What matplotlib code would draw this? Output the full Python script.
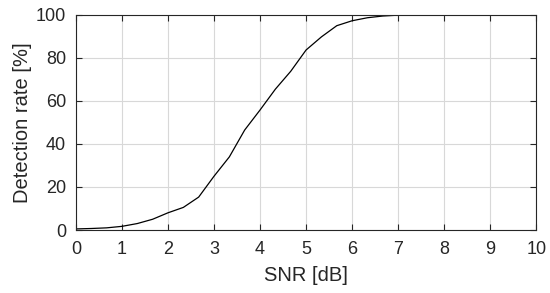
import numpy as np
import matplotlib
matplotlib.use("Agg")
import matplotlib.pyplot as plt

plt.rcParams['font.family'] = ['Liberation Sans', 'DejaVu Sans']

snr_db = [0, 1/3, 2/3, 1, 4/3, 5/3, 2, 7/3, 8/3, 3, 10/3, 11/3, 4, 13/3, 14/3, 5,
          16/3, 17/3, 6, 19/3, 20/3, 7, 22/3, 23/3, 8, 25/3, 26/3, 9, 28/3, 29/3, 10]
detection_rate = [0.5, 0.7, 1.0, 1.7, 3.0, 5.0, 8.0, 10.5, 15.3, 25.0, 34.0, 46.5,
                  55.8, 65.5, 73.8, 83.7, 89.8, 95.0, 97.3, 98.7, 99.5, 99.9,
                  100, 100, 100, 100, 100, 100, 100, 100, 100]
xticks = list(range(0, 11))
yticks = [0, 20, 40, 60, 80, 100]

fig = plt.figure(figsize=(5.5, 2.93), dpi=100)
ax = fig.add_axes([0.138, 0.215, 0.837, 0.734])
ax.plot(snr_db, detection_rate, color='black', linewidth=0.9)
ax.set_xlim(0, 10)
ax.set_ylim(0, 100)
ax.set_xticks(xticks)
ax.set_yticks(yticks)
ax.grid(True, color='#d8d8d8', linewidth=0.8)
ax.set_axisbelow(True)
ax.tick_params(direction='in', top=True, right=True, length=4, width=0.8,
               colors='#262626', labelsize=13)
ax.tick_params(axis='x', pad=8)
ax.tick_params(axis='y', pad=7)
for s in ax.spines.values():
    s.set_color('#262626')
    s.set_linewidth(0.8)
ax.set_xlabel('SNR [dB]', fontsize=14.5, color='#262626', labelpad=6)
ax.set_ylabel('Detection rate [%]', fontsize=14.5, color='#262626', labelpad=3)
fig.savefig('out.png', dpi=100)
